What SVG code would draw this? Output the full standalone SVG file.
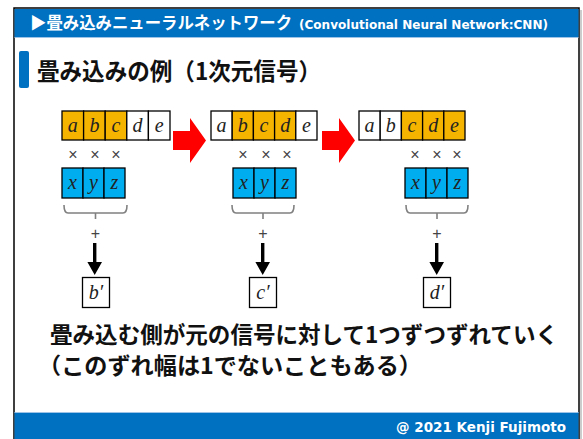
<svg xmlns="http://www.w3.org/2000/svg" width="583" height="439" viewBox="0 0 583 439">
<defs>
<style>
.jp{font-family:"Noto Sans CJK JP","Noto Sans",sans-serif;font-weight:bold}
.cell{stroke:#000;stroke-width:1.3}
.o{fill:#F5B400}
.w{fill:#fff}
.b{fill:#00AEEF}
.v{font-family:"Liberation Serif",serif;font-style:italic;font-size:20px;fill:#222;text-anchor:middle}
.x{font-family:"Liberation Sans",sans-serif;font-size:16px;fill:#444;text-anchor:middle}
.br{fill:none;stroke:#808080;stroke-width:1.6}
.res{fill:#fff;stroke:#000;stroke-width:1.3}
.red{fill:#FF0000}
.dn{fill:#000}
</style>
</defs>
<rect x="0" y="0" width="583" height="439" fill="#fff"/>
<rect x="14" y="8" width="565" height="440" fill="#fff" stroke="#000" stroke-width="1.5"/>
<line x1="581" y1="10" x2="581" y2="439" stroke="#999" stroke-width="1"/>
<g id="header">
<rect x="14.5" y="9" width="564" height="28" fill="#0070C0"/>
<line x1="14.5" y1="37.5" x2="578.5" y2="37.5" stroke="#9DC3E6" stroke-width="1"/>
<text x="30" y="29" class="jp" font-size="16.5" fill="#fff" textLength="262" lengthAdjust="spacingAndGlyphs">▶畳み込みニューラルネットワーク</text>
<text x="299" y="28.5" font-family="'DejaVu Sans',sans-serif" font-weight="bold" font-size="12" fill="#fff" textLength="249" lengthAdjust="spacingAndGlyphs">(Convolutional Neural Network:CNN)</text>
</g>
<g id="title">
<rect x="19" y="51" width="10" height="37" rx="2" fill="#0070C0"/>
<text x="37" y="80" class="jp" font-size="23.5" fill="#111" textLength="284" lengthAdjust="spacingAndGlyphs">畳み込みの例（1次元信号）</text>
</g>
<g id="footer">
<rect x="14.5" y="412" width="564" height="27" fill="#0070C0"/>
<line x1="14.5" y1="412.5" x2="578.5" y2="412.5" stroke="#9DC3E6" stroke-width="1"/>
<text x="566" y="432" font-family="'DejaVu Sans',sans-serif" font-weight="bold" font-size="13.5" fill="#fff" text-anchor="end">@ 2021 Kenji Fujimoto</text>
</g>

<g id="panel1-signal">
<rect class="cell o" x="62" y="111" width="21.6" height="29"/>
<rect class="cell o" x="83.6" y="111" width="21.6" height="29"/>
<rect class="cell o" x="105.2" y="111" width="21.6" height="29"/>
<rect class="cell w" x="126.8" y="111" width="21.6" height="29"/>
<rect class="cell w" x="148.4" y="111" width="21.6" height="29"/>
<text class="v" x="72.8" y="132">a</text>
<text class="v" x="94.4" y="132">b</text>
<text class="v" x="116" y="132">c</text>
<text class="v" x="137.6" y="132">d</text>
<text class="v" x="159.2" y="132">e</text>
</g>
<g id="panel1-times">
<text class="x" x="73" y="159.5">×</text>
<text class="x" x="95" y="159.5">×</text>
<text class="x" x="116" y="159.5">×</text>
</g>
<g id="panel1-kernel">
<rect class="cell b" x="62" y="168" width="21" height="30"/>
<rect class="cell b" x="83" y="168" width="21" height="30"/>
<rect class="cell b" x="104" y="168" width="21" height="30"/>
<text class="v" x="72.5" y="189">x</text>
<text class="v" x="93.5" y="189">y</text>
<text class="v" x="114.5" y="189">z</text>
</g>
<g id="panel1-sum">
<path class="br" d="M64,205 Q64,213 68,213 L123,213 Q127,213 127,205 M95.5,213 L95.5,219"/>
<text class="x" x="95.5" y="239">+</text>
</g>
<g id="panel1-result">
<rect class="res" x="82.5" y="277.5" width="27" height="30"/>
<text class="v" x="96" y="299">b′</text>
</g>

<g id="panel2-signal">
<rect class="cell w" x="211" y="111" width="21.2" height="29"/>
<rect class="cell o" x="232.2" y="111" width="21.2" height="29"/>
<rect class="cell o" x="253.4" y="111" width="21.2" height="29"/>
<rect class="cell o" x="274.6" y="111" width="21.2" height="29"/>
<rect class="cell w" x="295.8" y="111" width="21.2" height="29"/>
<text class="v" x="221.6" y="132">a</text>
<text class="v" x="242.8" y="132">b</text>
<text class="v" x="264" y="132">c</text>
<text class="v" x="285.2" y="132">d</text>
<text class="v" x="306.4" y="132">e</text>
</g>
<g id="panel2-times">
<text class="x" x="243" y="159.5">×</text>
<text class="x" x="266" y="159.5">×</text>
<text class="x" x="287" y="159.5">×</text>
</g>
<g id="panel2-kernel">
<rect class="cell b" x="233" y="168" width="21" height="30"/>
<rect class="cell b" x="254" y="168" width="21" height="30"/>
<rect class="cell b" x="275" y="168" width="21" height="30"/>
<text class="v" x="243.5" y="189">x</text>
<text class="v" x="264.5" y="189">y</text>
<text class="v" x="285.5" y="189">z</text>
</g>
<g id="panel2-sum">
<path class="br" d="M232,205 Q232,213 236,213 L290,213 Q294,213 294,205 M263,213 L263,219"/>
<text class="x" x="263" y="239">+</text>
</g>
<g id="panel2-result">
<rect class="res" x="249.5" y="277.5" width="27" height="30"/>
<text class="v" x="263" y="299">c′</text>
</g>

<g id="panel3-signal">
<rect class="cell w" x="359" y="111" width="21.2" height="29"/>
<rect class="cell w" x="380.2" y="111" width="21.2" height="29"/>
<rect class="cell o" x="401.4" y="111" width="21.2" height="29"/>
<rect class="cell o" x="422.6" y="111" width="21.2" height="29"/>
<rect class="cell o" x="443.8" y="111" width="21.2" height="29"/>
<text class="v" x="369.6" y="132">a</text>
<text class="v" x="390.8" y="132">b</text>
<text class="v" x="412" y="132">c</text>
<text class="v" x="433.2" y="132">d</text>
<text class="v" x="454.4" y="132">e</text>
</g>
<g id="panel3-times">
<text class="x" x="415" y="159.5">×</text>
<text class="x" x="437" y="159.5">×</text>
<text class="x" x="457" y="159.5">×</text>
</g>
<g id="panel3-kernel">
<rect class="cell b" x="405" y="168" width="21" height="30"/>
<rect class="cell b" x="426" y="168" width="21" height="30"/>
<rect class="cell b" x="447" y="168" width="21" height="30"/>
<text class="v" x="415.5" y="189">x</text>
<text class="v" x="436.5" y="189">y</text>
<text class="v" x="457.5" y="189">z</text>
</g>
<g id="panel3-sum">
<path class="br" d="M406,205 Q406,213 410,213 L464,213 Q468,213 468,205 M437,213 L437,219"/>
<text class="x" x="437" y="239">+</text>
</g>
<g id="panel3-result">
<rect class="res" x="423.5" y="277.5" width="27" height="30"/>
<text class="v" x="437" y="299">d′</text>
</g>

<g id="connectors">
<path class="red" d="M173,131 L190,131 L190,118 L206,140.5 L190,163 L190,150 L173,150 z"/>
<path class="red" d="M322,131 L339,131 L339,118 L355,140.5 L339,163 L339,150 L322,150 z"/>
<path class="dn" d="M93,243 L96.4,243 L96.4,262 L102,262 L94.7,275 L87.4,262 L93,262 z"/>
<path class="dn" d="M261,243 L264.4,243 L264.4,262 L270,262 L262.7,275 L255.4,262 L261,262 z"/>
<path class="dn" d="M435,243 L438.4,243 L438.4,262 L444,262 L436.7,275 L429.4,262 L435,262 z"/>
</g>

<g id="caption">
<text x="50" y="343" class="jp" font-size="22.5" fill="#111" textLength="508" lengthAdjust="spacingAndGlyphs">畳み込む側が元の信号に対して1つずつずれていく</text>
<text x="38" y="374" class="jp" font-size="22.5" fill="#111" textLength="384" lengthAdjust="spacingAndGlyphs">（このずれ幅は1でないこともある）</text>
</g>
</svg>
